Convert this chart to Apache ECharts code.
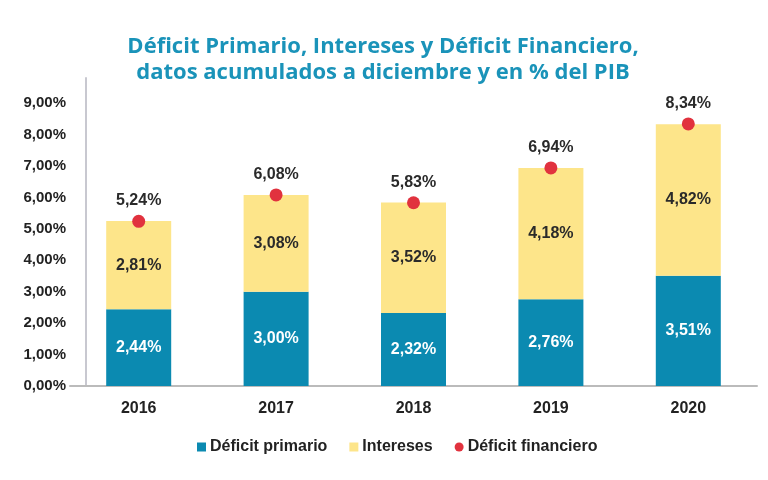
<!DOCTYPE html>
<html><head><meta charset="utf-8">
<script src="https://cdn.jsdelivr.net/npm/echarts@6/dist/echarts.min.js"></script>
<style>html,body{margin:0;padding:0;background:#fff}#c{width:768px;height:480px}</style>
</head><body><div id="c"></div>
<script>
const years = ['2016','2017','2018','2019','2020'];
const deficitPrimario = [2.44, 3.00, 2.32, 2.76, 3.51];
const intereses = [2.81, 3.08, 3.52, 4.18, 4.82];
const deficitFinanciero = [5.24, 6.08, 5.83, 6.94, 8.34];
const yTicks = [0,1,2,3,4,5,6,7,8,9];

const fmt = v => v.toFixed(2).replace('.', ',') + '%';
const chart = echarts.init(document.getElementById('c'));
const font = 'Liberation Sans';
chart.setOption({
  backgroundColor: '#fff',
  animation: false,
  title: {
    text: 'Déficit Primario, Intereses y Déficit Financiero,\ndatos acumulados a diciembre y en % del PIB',
    left: 378, textAlign: 'center', top: 29,
    textStyle: {fontFamily: 'Open Sans', fontWeight: 'bold', fontSize: 22, color: '#1a93b9', lineHeight: 26}
  },
  legend: {
    top: 434, left: 192, itemGap: 22, itemWidth: 9, itemHeight: 9,
    textStyle: {fontFamily: font, fontWeight: 'bold', fontSize: 16, color: '#222', padding: [0,0,0,-1]},
    data: [
      {name: 'Déficit primario', icon: 'rect'},
      {name: 'Intereses', icon: 'rect'},
      {name: 'Déficit financiero', icon: 'circle'}
    ]
  },
  grid: {left: 70, right: 11, top: 78, bottom: 94},
  xAxis: {
    type: 'category', data: years,
    axisLine: {lineStyle: {color: '#bbbbbb', width: 2}},
    axisTick: {show: false},
    axisLabel: {fontFamily: font, fontWeight: 'bold', fontSize: 16, color: '#222', margin: 15}
  },
  yAxis: {
    type: 'value', min: 0, max: 9.8, interval: 1, offset: -16,
    axisLine: {show: true, lineStyle: {color: '#c8c8d0', width: 2}},
    splitLine: {show: false},
    axisTick: {show: false},
    axisLabel: {fontFamily: font, fontWeight: 'bold', fontSize: 15, color: '#222', margin: 20,
      formatter: v => yTicks.includes(v) ? fmt(v) : ''}
  },
  series: [
    {name: 'Déficit primario', type: 'bar', stack: 'a', data: deficitPrimario, barWidth: 65,
      itemStyle: {color: '#0b8ab1'},
      label: {show: true, position: 'inside', formatter: p => fmt(p.value),
        fontFamily: font, fontWeight: 'bold', fontSize: 16, color: '#fff'}},
    {name: 'Intereses', type: 'bar', stack: 'a', data: intereses, barWidth: 65,
      itemStyle: {color: '#fde58a'},
      label: {show: true, position: 'inside', formatter: p => fmt(p.value),
        fontFamily: font, fontWeight: 'bold', fontSize: 16, color: '#2a2a2a'}},
    {name: 'Déficit financiero', type: 'scatter', data: deficitFinanciero, symbol: 'circle', symbolSize: 13,
      itemStyle: {color: '#e1323e', opacity: 1}, z: 5,
      label: {show: true, position: 'top', distance: 6, formatter: p => fmt(p.value),
        fontFamily: font, fontWeight: 'bold', fontSize: 16, color: '#2a2a2a'}}
  ]
});
</script></body></html>
